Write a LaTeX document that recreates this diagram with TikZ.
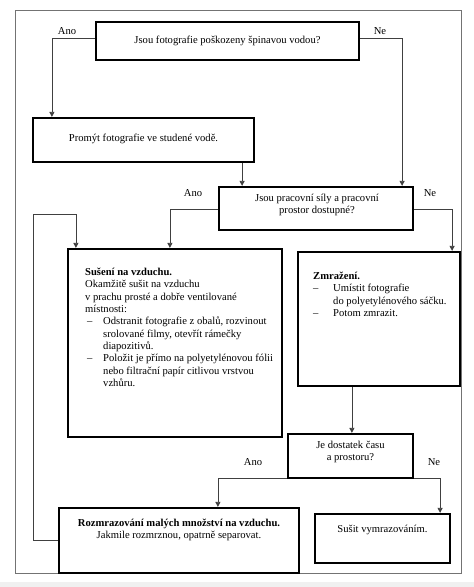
\documentclass[tikz,border=0pt]{standalone}
\usepackage{fontspec}
\setmainfont{Liberation Serif}
\usetikzlibrary{arrows.meta}
\begin{document}
\begin{tikzpicture}[x=1pt,y=-1pt,
  box/.style={draw=black,line width=2.2pt,inner sep=0pt},
  conn/.style={draw=black!75,line width=0.8pt},
  arr/.style={conn,-{Triangle[length=5pt,width=5pt]}},
  txt/.style={inner sep=0pt,font=\fontsize{10.6}{12.3}\selectfont},
  lbl/.style={inner sep=0pt,font=\fontsize{10.6}{12.3}\selectfont}]
\useasboundingbox (0,0) rectangle (474,587);
\fill[black!6] (0,582) rectangle (474,587);
\node[draw=black!55,line width=0.8pt,inner sep=0pt,minimum width=446pt,minimum height=563pt] (frame) at (238,291.5) {};
% boxes
\node[box,minimum width=263pt,minimum height=38pt] (b1) at (227.5,41) {};
\node[box,minimum width=221pt,minimum height=44pt] (b2) at (143.5,140) {};
\node[box,minimum width=194pt,minimum height=43pt] (b3) at (316,208.5) {};
\node[box,minimum width=214pt,minimum height=188pt] (b4) at (175,343) {};
\node[box,minimum width=162pt,minimum height=134pt] (b5) at (379,319) {};
\node[box,minimum width=125pt,minimum height=44pt] (b7) at (350.5,456) {};
\node[box,minimum width=240pt,minimum height=65pt] (b6) at (179,540.5) {};
\node[box,minimum width=135pt,minimum height=49pt] (b8) at (382.5,538.5) {};
% texts
\node[txt] (t1) at (227.5,41) {Jsou fotografie poškozeny špinavou vodou?};
\node[txt] (t2) at (143.5,139) {Promýt fotografie ve studené vodě.};
\node[txt,align=center] (t3) at (317,205) {Jsou pracovní síly a pracovní\\prostor dostupné?};
\node[txt,align=left,anchor=north west] (t4) at (85,268) {\textbf{Sušení na vzduchu.}\\
Okamžitě sušit na vzduchu\\
v prachu prosté a dobře ventilované\\
místnosti:\\
\makebox[2pt]{}\makebox[16pt][l]{–}Odstranit fotografie z obalů, rozvinout\\
\makebox[18pt]{}srolované filmy, otevřít rámečky\\
\makebox[18pt]{}diapozitivů.\\
\makebox[2pt]{}\makebox[16pt][l]{–}Položit je přímo na polyetylénovou fólii\\
\makebox[18pt]{}nebo filtrační papír citlivou vrstvou\\
\makebox[18pt]{}vzhůru.};
\node[txt,align=left,anchor=north west] (t5) at (313,272) {\textbf{Zmražení.}\\
\makebox[20pt][l]{–}Umístit fotografie\\
\makebox[20pt]{}do polyetylénového sáčku.\\
\makebox[20pt][l]{–}Potom zmrazit.};
\node[txt,align=center] (t7) at (350.5,452) {Je dostatek času\\a prostoru?};
\node[txt,align=center] (t6) at (179,530) {\textbf{Rozmrazování malých množství na vzduchu.}\\Jakmile rozmrznou, opatrně separovat.};
\node[txt] (t8) at (382.5,530) {Sušit vymrazováním.};
% labels
\node[lbl] (l1) at (67,31) {Ano};
\node[lbl] (l2) at (380,31) {Ne};
\node[lbl] (l3) at (193,193) {Ano};
\node[lbl] (l4) at (430,193) {Ne};
\node[lbl] (l5) at (253,462) {Ano};
\node[lbl] (l6) at (434,462) {Ne};
% connectors
\draw[arr] ([yshift=3pt]b1.west) -| ([xshift=20pt]b2.north west);
\draw[arr] ([yshift=3pt]b1.east) -| ([xshift=-12pt]b3.north east);
\draw[arr] ([xshift=-13pt]b2.south east) -- ([xshift=-13pt]b2.south east |- b3.north);
\draw[arr] ([yshift=-0.5pt]b3.west) -| ([xshift=103pt]b4.north west);
\draw[arr] ([yshift=-0.5pt]b3.east) -| ([xshift=-9pt]b5.north east);
\coordinate (lp) at (33,214);
\draw[arr] (b6.west) -| (lp) -| ([xshift=9pt]b4.north west);
\draw[arr] ([xshift=55pt]b5.south west) -- ([xshift=55pt]b5.south west |- b7.north);
\draw[arr] ([yshift=1pt]b7.south west) -| ([xshift=160pt]b6.north west);
\draw[arr] ([yshift=1pt]b7.south east) -| ([xshift=-11pt]b8.north east);
\end{tikzpicture}
\end{document}
